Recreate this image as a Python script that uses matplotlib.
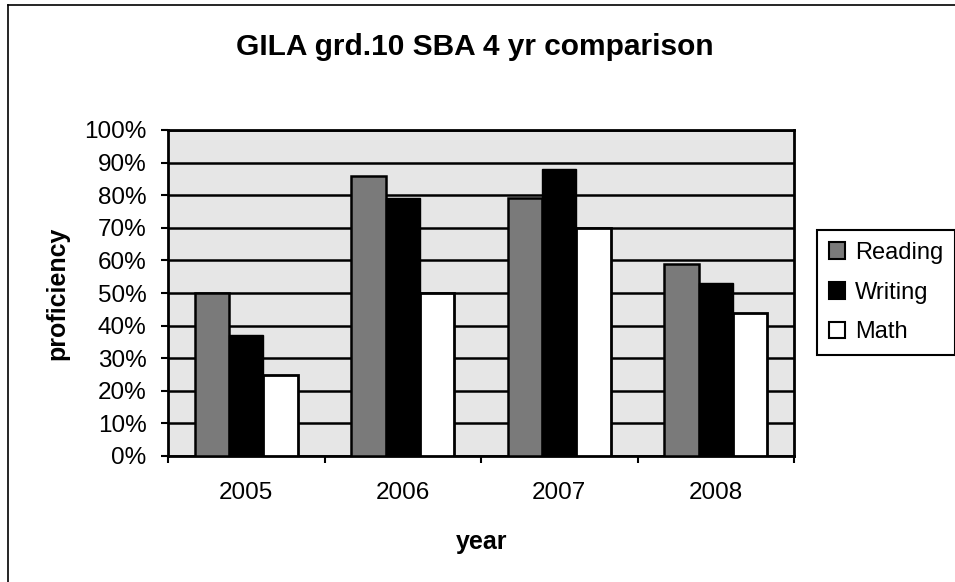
import matplotlib
matplotlib.use('Agg')
import matplotlib.pyplot as plt
import numpy as np
from matplotlib.patches import Patch
from matplotlib.lines import Line2D
from matplotlib.ticker import PercentFormatter, FixedLocator

# ---- data ----
years = ['2005', '2006', '2007', '2008']
series_names = ['Reading', 'Writing', 'Math']
reading = [50, 86, 79, 59]
writing = [37, 79, 88, 53]
math_scores = [25, 50, 70, 44]
y_ticks = [0, 10, 20, 30, 40, 50, 60, 70, 80, 90, 100]
title = 'GILA grd.10 SBA 4 yr comparison'

plt.rcParams['font.family'] = ['Liberation Sans', 'DejaVu Sans']

W, H = 955, 582
fig = plt.figure(figsize=(W / 100, H / 100), dpi=100)
fig.patch.set_facecolor('white')

left, right, top, bottom = 168, 794, 130, 456
ax = fig.add_axes([left / W, 1 - bottom / H, (right - left) / W, (bottom - top) / H])
ax.set_facecolor('#e6e6e6')
ax.set_axisbelow(True)
ax.yaxis.grid(True, color='black', linewidth=1.8)

x = np.arange(len(years))
w = 0.22
ax.bar(x - w, reading, w, color='#7a7a7a', edgecolor='black', linewidth=1.8, zorder=3)
ax.bar(x, writing, w, color='black', edgecolor='black', linewidth=1.0, zorder=3)
ax.bar(x + w, math_scores, w, color='white', edgecolor='black', linewidth=2.0, zorder=3)

ax.set_ylim(0, 100)
ax.set_xlim(-0.5, len(years) - 0.5)
ax.set_yticks(y_ticks)
ax.yaxis.set_major_formatter(PercentFormatter(decimals=0))
ax.tick_params(axis='y', length=5, width=1.5, pad=10.5, labelsize=17.5)

ax.set_xticks(x)
ax.set_xticklabels(years)
ax.xaxis.set_minor_locator(FixedLocator(np.arange(-0.5, len(years), 1.0)))
ax.tick_params(axis='x', which='major', length=0, pad=19, labelsize=17.5)
ax.tick_params(axis='x', which='minor', length=5, width=1.5)

for s in ax.spines.values():
    s.set_linewidth(2.0)
    s.set_color('black')

# titles / labels
fig.text(0.497, 1 - 47 / H, title, ha='center', va='center',
         fontsize=21.5, fontweight='bold')
fig.text(482 / W, 1 - 542 / H, 'year', ha='center', va='center',
         fontsize=18, fontweight='bold')
fig.text(57 / W, 1 - 293 / H, 'proficiency', ha='center', va='center',
         rotation=90, fontsize=18, fontweight='bold')

# legend
handles = [Patch(facecolor='#7a7a7a', edgecolor='black', linewidth=1.5),
           Patch(facecolor='black', edgecolor='black', linewidth=1.5),
           Patch(facecolor='white', edgecolor='black', linewidth=1.5)]
leg = fig.legend(handles, series_names, loc='upper left',
                 bbox_to_anchor=(817 / W, 1 - 230 / H), fontsize=17,
                 frameon=True, fancybox=False, edgecolor='black', framealpha=1,
                 handlelength=0.7, handleheight=0.7, handletextpad=0.4,
                 labelspacing=0.75, borderpad=0.5, borderaxespad=0)
leg.get_frame().set_linewidth(1.5)

# outer chart border (left and top visible)
fig.add_artist(Line2D([8 / W, 8 / W], [0, 1 - 5 / H], transform=fig.transFigure,
                      color='black', linewidth=1.2))
fig.add_artist(Line2D([8 / W, 1], [1 - 5 / H, 1 - 5 / H], transform=fig.transFigure,
                      color='black', linewidth=1.2))

fig.savefig('out.png', dpi=100)
